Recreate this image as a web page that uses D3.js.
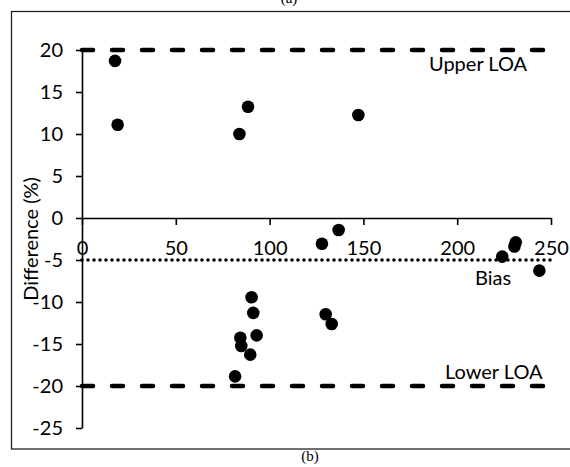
<!DOCTYPE html>
<html>
<head>
<meta charset="utf-8">
<script src="https://cdn.jsdelivr.net/npm/d3@7"></script>
<style>
  body { margin: 0; background: #fff; }
  svg text { font-family: Lato, "Open Sans", sans-serif; fill: #000; }
</style>
</head>
<body>
<script>
// Bland-Altman plot: mean vs difference (%)
var meanValues = [17.6, 19, 83.9, 88.5, 147.3, 90.4, 91.3, 93.1, 84.4, 84.9, 89.7, 81.6, 129.9, 133.1, 127.9, 136.8, 224, 231.2, 230.5, 243.8];
var diffValues = [18.7, 11.1, 10.0, 13.25, 12.26, -9.44, -11.3, -13.97, -14.25, -15.24, -16.27, -18.85, -11.46, -12.62, -3.06, -1.43, -4.6, -2.9, -3.4, -6.27];
var xTicks = [0, 50, 100, 150, 200, 250];
var yTicks = [20, 15, 10, 5, 0, -5, -10, -15, -20, -25];
var bias = -5, upperLOA = 20, lowerLOA = -20;

var width = 570, height = 467;

var svg = d3.select("body").append("svg")
    .attr("width", width)
    .attr("height", height);

var x = d3.scaleLinear().domain([0, 250]).range([82, 551]);
var y = d3.scaleLinear().domain([-25, 20]).range([428, 50]);

// outer frame
svg.append("rect")
    .attr("x", 11.5).attr("y", 11.5)
    .attr("width", 600).attr("height", 437.5)
    .attr("fill", "none").attr("stroke", "#222").attr("stroke-width", 1.3);

// cut-off panel captions
svg.append("text").attr("x", 289).attr("y", 3)
    .attr("text-anchor", "middle")
    .style("font-family", "'Liberation Serif', serif").style("font-size", "15px")
    .text("(a)");
svg.append("text").attr("x", 310).attr("y", 461)
    .attr("text-anchor", "middle")
    .style("font-family", "'Liberation Serif', serif").style("font-size", "15px")
    .text("(b)");

// plain hyphen for negatives, like the original
var fmt = function(d) { return String(d); };

// y axis
var yAxis = svg.append("g")
    .attr("transform", "translate(" + x(0) + ",0)")
    .call(d3.axisLeft(y).tickValues(yTicks).tickFormat(fmt).tickSize(6).tickSizeOuter(0).tickPadding(13));

// x axis at y = 0
var xAxis = svg.append("g")
    .attr("transform", "translate(0," + y(0) + ")")
    .call(d3.axisBottom(x).tickValues(xTicks).tickFormat(fmt).tickSize(7).tickSizeOuter(0).tickPadding(16));

[xAxis, yAxis].forEach(function(g) {
  g.select(".domain").attr("stroke", "#000").attr("stroke-width", 1.6);
  g.selectAll(".tick line").attr("stroke", "#000").attr("stroke-width", 1.6);
  g.selectAll(".tick text").style("font-size", "20px").style("font-family", "Lato, sans-serif");
});

// axis title
svg.append("text")
    .attr("transform", "translate(31," + ((y(20) + y(-25)) / 2) + ") rotate(-90)")
    .attr("text-anchor", "middle")
    .attr("dy", "0.35em")
    .style("font-size", "20px")
    .text("Difference (%)");

// limits of agreement and bias
svg.selectAll("line.loa")
  .data([upperLOA, lowerLOA])
  .enter().append("line")
    .attr("class", "loa")
    .attr("x1", x(0)).attr("x2", x(250))
    .attr("y1", function(d) { return y(d); })
    .attr("y2", function(d) { return y(d); })
    .attr("stroke", "#000").attr("stroke-width", 4.5)
    .attr("stroke-linecap", "round")
    .attr("stroke-dasharray", "11,19");

svg.append("line")
    .attr("x1", x(0)).attr("x2", x(250))
    .attr("y1", y(bias)).attr("y2", y(bias))
    .attr("stroke", "#000").attr("stroke-width", 3.6)
    .attr("stroke-linecap", "round")
    .attr("stroke-dasharray", "0,6");

// line labels
svg.append("text").attr("x", 429).attr("y", 71).style("font-size", "20px").text("Upper LOA");
svg.append("text").attr("x", 475).attr("y", 285).style("font-size", "20px").text("Bias");
svg.append("text").attr("x", 445).attr("y", 379).style("font-size", "20px").text("Lower LOA");

// points
svg.append("g").selectAll("circle")
  .data(meanValues)
  .enter().append("circle")
    .attr("cx", function(d) { return x(d); })
    .attr("cy", function(d, i) { return y(diffValues[i]); })
    .attr("r", 6.3)
    .attr("fill", "#000");
</script>
</body>
</html>
